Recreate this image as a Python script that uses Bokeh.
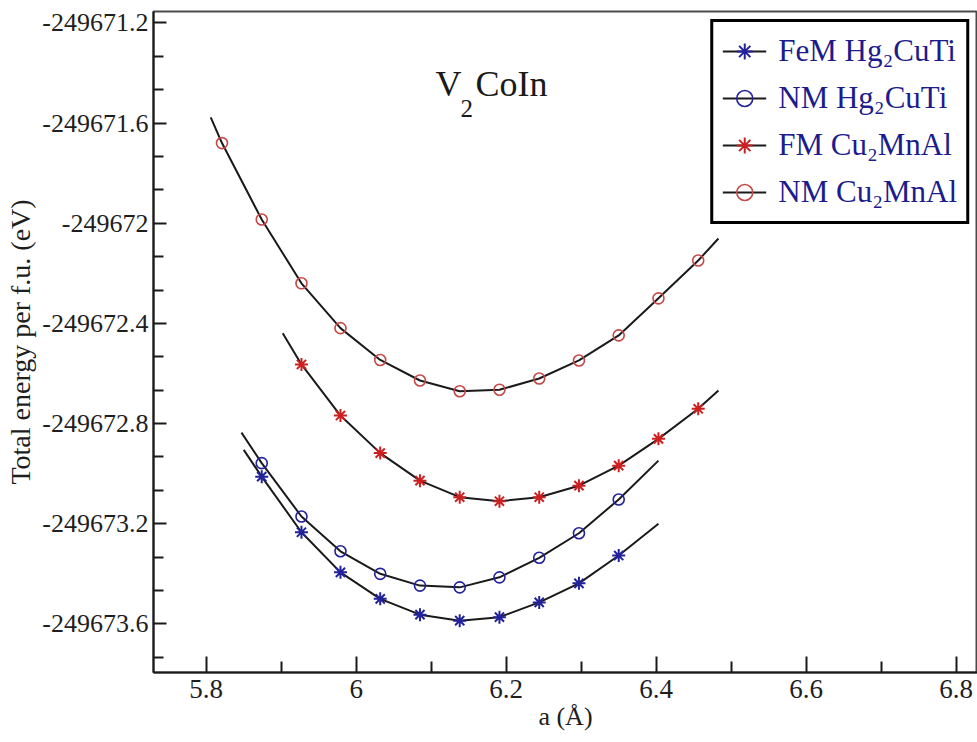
from bokeh.plotting import figure
from bokeh.models import Range1d, FixedTicker, Label, Legend, LegendItem
from bokeh.embed import file_html
from bokeh.resources import INLINE

# ---------------- data ----------------
a_grid = [5.821, 5.874, 5.927, 5.979, 6.032, 6.085, 6.138, 6.191, 6.244, 6.297, 6.350, 6.403, 6.456]

# NM Cu2MnAl (red open circles)
nm_cu_a = a_grid
nm_cu_e = [-249671.680, -249671.985, -249672.240, -249672.419, -249672.546, -249672.628, -249672.671,
           -249672.665, -249672.620, -249672.548, -249672.448, -249672.300, -249672.149]
# FM Cu2MnAl (red stars)
fm_cu_a = a_grid[2:]
fm_cu_e = [-249672.564, -249672.768, -249672.918, -249673.028, -249673.094, -249673.110,
           -249673.094, -249673.048, -249672.968, -249672.861, -249672.741]
# NM Hg2CuTi (blue open circles)
nm_hg_a = a_grid[1:11]
nm_hg_e = [-249672.958, -249673.171, -249673.310, -249673.400, -249673.447, -249673.454,
           -249673.414, -249673.336, -249673.238, -249673.103]
# FeM Hg2CuTi (blue stars)
fem_hg_a = a_grid[1:11]
fem_hg_e = [-249673.012, -249673.234, -249673.394, -249673.500, -249673.563, -249673.587,
            -249673.573, -249673.514, -249673.438, -249673.327]

# fitted-curve end points (where each black curve starts / stops)
nm_cu_fit_ends_a = [5.806, 6.483]
nm_cu_fit_ends_e = [-249671.577, -249672.061]
fm_cu_fit_ends_a = [5.902, 6.483]
fm_cu_fit_ends_e = [-249672.439, -249672.668]
nm_hg_fit_ends_a = [5.847, 6.403]
nm_hg_fit_ends_e = [-249672.836, -249672.948]
fem_hg_fit_ends_a = [5.850, 6.403]
fem_hg_fit_ends_e = [-249672.905, -249673.200]

series_labels = ["FeM Hg\u2082CuTi", "NM Hg\u2082CuTi", "FM Cu\u2082MnAl", "NM Cu\u2082MnAl"]

x_ticks = [5.8, 6.0, 6.2, 6.4, 6.6, 6.8]
x_tick_labels = ["5.8", "6", "6.2", "6.4", "6.6", "6.8"]
x_minor = [5.9, 6.1, 6.3, 6.5, 6.7]
y_ticks = [-249673.6, -249673.2, -249672.8, -249672.4, -249672.0, -249671.6, -249671.2]
y_tick_labels = ["-249673.6", "-249673.2", "-249672.8", "-249672.4", "-249672", "-249671.6", "-249671.2"]

# ---------------- figure ----------------
FONT = "'Liberation Serif', 'Times New Roman', serif"
p = figure(width=977, height=742,
           x_range=Range1d(5.7297, 6.8284), y_range=Range1d(-249673.794, -249671.1546),
           output_backend="svg", toolbar_location=None,
           min_border_left=153, min_border_right=0, min_border_top=11, min_border_bottom=70)
p.background_fill_color = "white"
p.border_fill_color = "white"
p.xgrid.visible = False
p.ygrid.visible = False
p.outline_line_color = "#4a4a4a"
p.outline_line_width = 2

y_minor = []
for t in y_ticks:
    for k in (1, 2):
        y_minor.append(t - k * 0.4 / 3)

p.xaxis.ticker = FixedTicker(ticks=x_ticks, minor_ticks=x_minor)
p.yaxis.ticker = FixedTicker(ticks=y_ticks, minor_ticks=y_minor)
p.xaxis.major_label_overrides = dict(zip(x_ticks, x_tick_labels))
p.yaxis.major_label_overrides = dict(zip(y_ticks, y_tick_labels))

for ax in (p.xaxis[0], p.yaxis[0]):
    ax.axis_line_width = 2
    ax.axis_line_color = "#1a1a1a"
    ax.major_tick_line_width = 2
    ax.minor_tick_line_width = 2
    ax.major_tick_line_color = "#1a1a1a"
    ax.minor_tick_line_color = "#1a1a1a"
    ax.major_tick_out = 0
    ax.minor_tick_out = 0
    ax.major_label_text_font = FONT
    ax.major_label_text_color = "#1e1e1e"
    ax.axis_label_text_font = FONT
    ax.axis_label_text_font_style = "normal"
    ax.axis_label_text_color = "#1e1e1e"

p.xaxis.major_label_text_font_size = "27px"
p.yaxis.major_label_text_font_size = "26px"
p.xaxis.major_tick_in = 16
p.xaxis.minor_tick_in = 11
p.yaxis.major_tick_in = 13
p.yaxis.minor_tick_in = 10
p.xaxis.major_label_standoff = 7
p.yaxis.major_label_standoff = 5
p.xaxis.axis_label = "a (\u00c5)"
p.xaxis.axis_label_text_font_size = "26px"
p.xaxis.axis_label_standoff = 1
p.yaxis.axis_label = "Total energy per f.u. (eV)"
p.yaxis.axis_label_text_font_size = "28px"
p.yaxis.axis_label_standoff = 3

RED_C = "#c84848"
RED_S = "#cc2020"
BLUE = "#22229a"
LINE = "#1a1a1a"

def series(a, e, ends_a, ends_e, marker, color):
    fa = [ends_a[0]] + list(a) + [ends_a[1]]
    fe = [ends_e[0]] + list(e) + [ends_e[1]]
    ln = p.line(fa, fe, line_color=LINE, line_width=2)
    if marker == "circle":
        sc = p.scatter(a, e, marker="circle", size=11, fill_color=None, line_color=color, line_width=1.6)
    else:
        sc = p.scatter(a, e, marker="asterisk", size=13, line_color=color, line_width=2)
    return ln, sc

r_fem = series(fem_hg_a, fem_hg_e, fem_hg_fit_ends_a, fem_hg_fit_ends_e, "star", BLUE)
r_nmh = series(nm_hg_a, nm_hg_e, nm_hg_fit_ends_a, nm_hg_fit_ends_e, "circle", BLUE)
r_fmc = series(fm_cu_a, fm_cu_e, fm_cu_fit_ends_a, fm_cu_fit_ends_e, "star", RED_S)
r_nmc = series(nm_cu_a, nm_cu_e, nm_cu_fit_ends_a, nm_cu_fit_ends_e, "circle", RED_C)

legend = Legend(items=[LegendItem(label=series_labels[0], renderers=list(r_fem)),
                       LegendItem(label=series_labels[1], renderers=list(r_nmh)),
                       LegendItem(label=series_labels[2], renderers=list(r_fmc)),
                       LegendItem(label=series_labels[3], renderers=list(r_nmc))],
                location="top_right")
legend.label_text_font = FONT
legend.label_text_font_size = "31px"
legend.label_text_color = "#1c1c8c"
legend.border_line_color = "black"
legend.border_line_alpha = 1.0
legend.border_line_width = 3
legend.glyph_width = 44
legend.glyph_height = 40
legend.label_height = 40
legend.spacing = 7
legend.padding = 9
legend.margin = 8
legend.label_standoff = 12
legend.background_fill_color = "white"
legend.background_fill_alpha = 1
p.add_layout(legend)

# compound label V2CoIn
tx, ty = 6.1057, -249671.446
p.add_layout(Label(x=tx, y=ty, text="V", text_font=FONT, text_font_size="36px",
                   text_baseline="alphabetic", text_color="#1a1a1a"))
p.add_layout(Label(x=tx, y=ty, text="2", x_offset=25, y_offset=-24, text_font=FONT, text_font_size="25px",
                   text_baseline="alphabetic", text_color="#1a1a1a"))
p.add_layout(Label(x=tx, y=ty, text="CoIn", x_offset=40, text_font=FONT, text_font_size="36px",
                   text_baseline="alphabetic", text_color="#1a1a1a"))

open("out.html", "w").write(file_html(p, INLINE))
